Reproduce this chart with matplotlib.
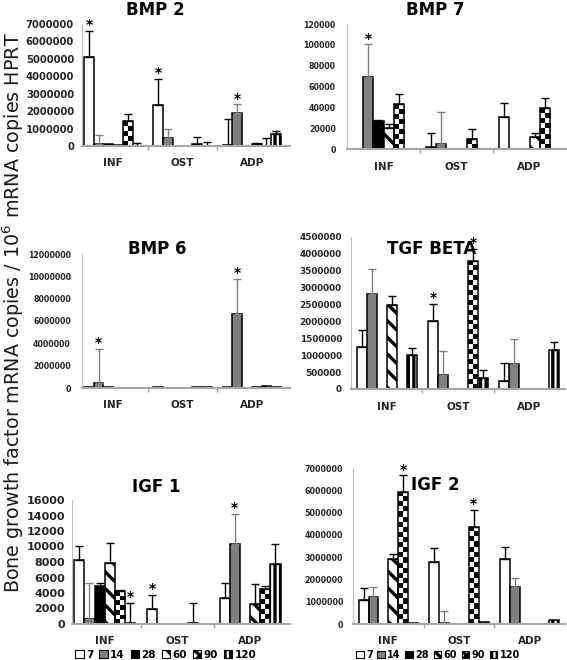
import numpy as np
import matplotlib
matplotlib.use('Agg')
import matplotlib.pyplot as plt
from matplotlib.patches import Patch

plt.rcParams['font.family'] = ['DejaVu Sans']
plt.rcParams['mathtext.default'] = 'regular'
plt.rcParams['hatch.linewidth'] = 2.4

nan = np.nan
groups = ['INF', 'OST', 'ADP']
days = ['7', '14', '28', '60', '90', '120']

# mean values, one row per day (7, 14, 28, 60, 90, 120), columns INF / OST / ADP
bmp2_mean = [[5.12e6, 2.38e6, 0.03e6],
             [0.13e6, 0.48e6, 1.88e6],
             [0.13e6, nan, nan],
             [0.04e6, nan, 0.14e6],
             [1.42e6, 0.10e6, 0.02e6],
             [0.01e6, 0.01e6, 0.67e6]]
bmp2_err = [[1.50e6, 1.48e6, 1.50e6],
            [0.52e6, 0.52e6, 0.51e6],
            [0, 0, 0],
            [0, 0, 0.02e6],
            [0.42e6, 0.43e6, 0.46e6],
            [0.18e6, 0.20e6, 0.19e6]]
bmp2_stars = [(0, 0), (1, 0), (2, 1)]

bmp7_mean = [[nan, 2200, 30400],
             [68800, 4500, nan],
             [27000, nan, nan],
             [20000, nan, 11500],
             [43000, 9300, 39000],
             [nan, nan, nan]]
bmp7_err = [[0, 13500, 14100],
            [31700, 31300, 0],
            [1200, 0, 0],
            [3700, 0, 4200],
            [10200, 9900, 10300],
            [0, 0, 0]]
bmp7_stars = [(0, 1)]

bmp6_mean = [[0.05e6, 0.05e6, 0.05e6],
             [0.42e6, nan, 6.63e6],
             [0.05e6, nan, nan],
             [nan, nan, 0.05e6],
             [nan, 0.05e6, 0.15e6],
             [nan, 0.05e6, 0.05e6]]
bmp6_err = [[0, 0, 0],
            [3.07e6, 0, 3.13e6],
            [0, 0, 0],
            [0, 0, 0],
            [0, 0, 0],
            [0, 0, 0]]
bmp6_stars = [(0, 1), (2, 1)]

tgf_mean = [[1.25e6, 2.02e6, 0.25e6],
            [2.80e6, 0.40e6, 0.74e6],
            [nan, nan, nan],
            [2.50e6, nan, nan],
            [nan, 3.80e6, nan],
            [1.00e6, 0.34e6, 1.15e6]]
tgf_err = [[0.50e6, 0.50e6, 0.51e6],
           [0.75e6, 0.73e6, 0.74e6],
           [0, 0, 0],
           [0.25e6, 0, 0],
           [0, 0.35e6, 0],
           [0.22e6, 0.22e6, 0.24e6]]
tgf_stars = [(1, 0), (1, 4)]

igf1_mean = [[8200, 1950, 3300],
             [650, nan, 10300],
             [4900, nan, nan],
             [7900, nan, 2600],
             [4200, 100, 4500],
             [100, nan, 7800]]
igf1_err = [[1900, 1850, 1950],
            [4600, 0, 3900],
            [400, 0, 0],
            [2600, 0, 2600],
            [200, 2550, 350],
            [2600, 0, 2500]]
igf1_stars = [(0, 5), (1, 0), (2, 1)]

igf2_mean = [[1.07e6, 2.80e6, 2.90e6],
             [1.22e6, 0.05e6, 1.64e6],
             [nan, nan, nan],
             [2.90e6, nan, nan],
             [5.93e6, 4.36e6, nan],
             [0.05e6, 0.10e6, 0.20e6]]
igf2_err = [[0.56e6, 0.59e6, 0.56e6],
            [0.45e6, 0.52e6, 0.43e6],
            [0, 0, 0],
            [0.26e6, 0, 0],
            [0.74e6, 0.77e6, 0],
            [0, 0, 0]]
igf2_stars = [(0, 4), (1, 4)]

W, H = 567, 660
fig = plt.figure(figsize=(W / 100, H / 100), dpi=100)

# (title, means, errors, stars, ymax, ystep, axes box px, title pos px, left column?, ytick size, ytick pad)
panels = [
    ('BMP 2', bmp2_mean, bmp2_err, bmp2_stars, 7e6, 1e6, (82, 24, 290, 146), (155, 10), True, 7.2, 5.8),
    ('BMP 7', bmp7_mean, bmp7_err, bmp7_stars, 120000, 20000, (347, 24, 566, 149), (435, 10), False, 5.7, 8),
    ('BMP 6', bmp6_mean, bmp6_err, bmp6_stars, 12e6, 2e6, (82, 254, 290, 388), (157, 249), True, 5.7, 8),
    ('TGF BETA', tgf_mean, tgf_err, tgf_stars, 4.5e6, 0.5e6, (351, 237, 565, 389), (432, 249), False, 6.4, 6.5),
    ('IGF 1', igf1_mean, igf1_err, igf1_stars, 16000, 2000, (72, 500, 290, 624), (156, 487), True, 8, 5),
    ('IGF 2', igf2_mean, igf2_err, igf2_stars, 7e6, 1e6, (353, 468, 565, 624), (435, 485), False, 5.8, 7),
]

faces = ['white', '#808080', 'black', 'white', 'none', 'white']
hatches = [None, None, None, '\\\\', None, '|||']
err_colors = ['black', '#808080', 'black', 'black', 'black', 'black']
bw = 0.14

for title, means, errs, stars, ymax, ystep, box, tpos, left, ysize, ypad in panels:
    x0, y0, x1, y1 = box
    ax = fig.add_axes([x0 / W, 1 - y1 / H, (x1 - x0) / W, (y1 - y0) / H])
    xlim = (-0.45, 2.55) if left else (-0.5, 2.5)
    ppu_x = (x1 - x0) / (xlim[1] - xlim[0])
    ppu_y = (y1 - y0) / ymax
    g = np.arange(len(groups))
    for i in range(len(days)):
        xs = g + (i - 2.5) * bw
        m = np.array(means[i], dtype=float)
        bars = ax.bar(xs, m, bw, color=faces[i], edgecolor='black', linewidth=1.1,
                      hatch=hatches[i], zorder=2.2)
        e = np.array(errs[i], dtype=float)
        ok = ~np.isnan(m) & (e > 0)
        if ok.any():
            ax.errorbar(xs[ok], m[ok], yerr=[np.zeros(ok.sum()), e[ok]], fmt='none',
                        ecolor=err_colors[i], elinewidth=1.0, capsize=3, capthick=1.0,
                        zorder=2.5)
        if days[i] == '90':
            # checkerboard fill for day 90
            for b in bars:
                h = b.get_height()
                if np.isnan(h):
                    continue
                nc = max(1, round(b.get_width() * ppu_x / 5))
                nr = max(1, round(h * ppu_y / 5))
                pat = np.add.outer(np.arange(nr), np.arange(nc)) % 2
                im = ax.imshow(pat, cmap='gray', vmin=0, vmax=1, origin='upper',
                               extent=(b.get_x(), b.get_x() + b.get_width(), 0, h),
                               aspect='auto', interpolation='nearest', zorder=2.1)
                im.set_clip_path(b)
    for gi, si in stars:
        top = np.nan_to_num(means[si][gi]) + errs[si][gi]
        ax.annotate('*', (gi + (si - 2.5) * bw, top), xytext=(0, -1),
                    textcoords='offset points', ha='center', va='bottom',
                    fontsize=10, fontweight='bold', zorder=4)

    ax.set_xlim(*xlim)
    ax.set_ylim(0, ymax)
    ticks = np.arange(0, ymax + ystep / 2, ystep)
    ax.set_yticks(ticks)
    ax.set_yticklabels([f'{int(v)}' for v in ticks])
    ax.set_xticks(g)
    ax.set_xticklabels(groups)
    ax.set_xticks([0.5, 1.5], minor=True)
    ax.tick_params(axis='x', which='major', length=0, pad=9, labelsize=7.5)
    ax.tick_params(axis='x', which='minor', length=3, color='#a6a6a6', width=1)
    ax.tick_params(axis='y', length=0, pad=ypad, labelsize=ysize)
    for lab in ax.get_xticklabels() + ax.get_yticklabels():
        lab.set_fontweight('bold')
        lab.set_color('#262626')
    for s in ['top', 'right']:
        ax.spines[s].set_visible(False)
    ax.spines['left'].set_color('#bfbfbf')
    ax.spines['bottom'].set_color('#a6a6a6')
    ax.spines['bottom'].set_linewidth(1.5)
    ax.patch.set_alpha(0)
    fig.text(tpos[0] / W, 1 - tpos[1] / H, title, ha='center', va='center',
             fontsize=12, fontweight='bold', color='black')

fig.text(13 / W, 1 - 313 / H, 'Bone growth factor mRNA copies / 10$^{6}$ mRNA copies HPRT',
         rotation=90, ha='center', va='center', fontsize=13.8, color='#1a1a1a')

handles = [Patch(facecolor='white', edgecolor='black', lw=0.8),
           Patch(facecolor='#808080', edgecolor='black', lw=0.8),
           Patch(facecolor='black', edgecolor='black', lw=0.8),
           Patch(facecolor='white', edgecolor='black', hatch='\\\\', lw=0.8),
           Patch(facecolor='white', edgecolor='black', hatch='xxx', lw=0.8),
           Patch(facecolor='white', edgecolor='black', hatch='|||', lw=0.8)]
for cx, fs, cs in [(166, 7.5, 0.55), (438, 7.0, 0.45)]:
    fig.legend(handles, days, loc='center', bbox_to_anchor=(cx / W, 1 - 655 / H), ncol=6,
               frameon=False, prop={'size': fs, 'weight': 'bold'}, handlelength=0.8,
               handleheight=0.8, handletextpad=0.25, columnspacing=cs, borderpad=0)

fig.savefig('out.png', dpi=100)
